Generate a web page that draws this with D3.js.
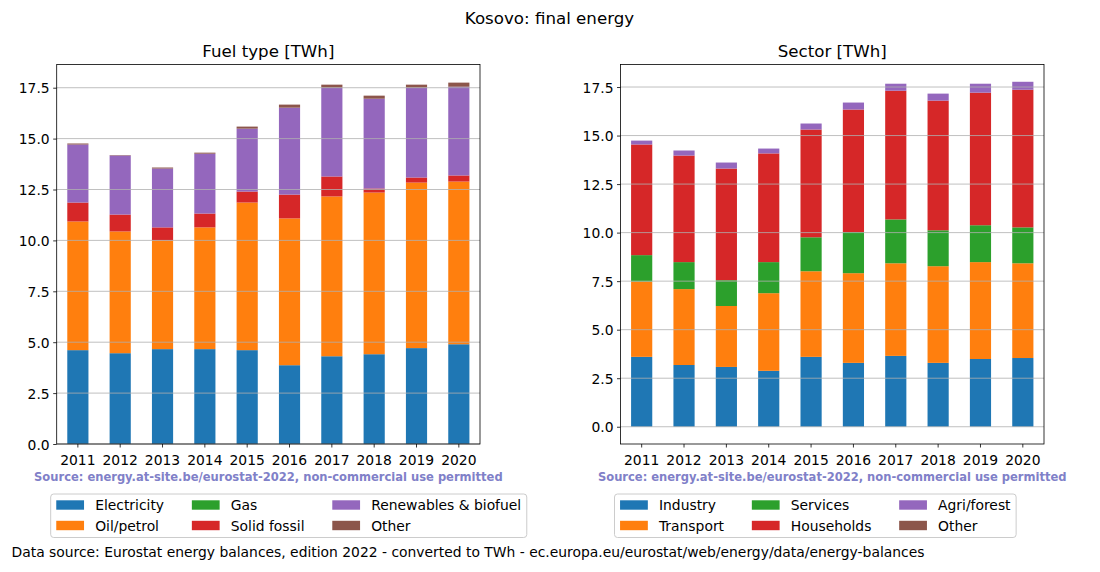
<!DOCTYPE html>
<html>
<head>
<meta charset="utf-8">
<script src="https://cdn.jsdelivr.net/npm/d3@7"></script>
<style>
  html, body { margin: 0; padding: 0; background: #fff; }
  svg { display: block; font-family: "DejaVu Sans", sans-serif; }
</style>
</head>
<body>
<svg id="chart" width="1100" height="572"></svg>
<script>
// ---------------- DATA ----------------
const years = ["2011","2012","2013","2014","2015","2016","2017","2018","2019","2020"];
const yTicks = [0, 2.5, 5, 7.5, 10, 12.5, 15, 17.5];

// Fuel type [TWh]
const fuelNames = ["Electricity", "Oil/petrol", "Gas", "Solid fossil", "Renewables & biofuel", "Other"];
const fuelElectricity = [4.61, 4.46, 4.66, 4.66, 4.61, 3.87, 4.31, 4.41, 4.71, 4.90];
const fuelOil         = [6.32, 5.98, 5.34, 5.98, 7.25, 7.21, 7.85, 7.94, 8.13, 7.99];
const fuelGas         = [0, 0, 0, 0, 0, 0, 0, 0, 0, 0];
const fuelSolid       = [0.93, 0.83, 0.64, 0.68, 0.54, 1.17, 0.98, 0.20, 0.25, 0.30];
const fuelRenewables  = [2.85, 2.90, 2.89, 2.94, 3.09, 4.27, 4.36, 4.41, 4.41, 4.36];
const fuelOther       = [0.05, 0.02, 0.05, 0.05, 0.10, 0.15, 0.15, 0.15, 0.15, 0.20];

// Sector [TWh]
const sectorNames = ["Industry", "Transport", "Services", "Households", "Agri/forest", "Other"];
const secIndustry   = [3.60, 3.18, 3.08, 2.88, 3.60, 3.29, 3.65, 3.29, 3.49, 3.54];
const secTransport  = [3.88, 3.91, 3.14, 4.00, 4.41, 4.62, 4.77, 4.98, 4.99, 4.88];
const secServices   = [1.36, 1.39, 1.33, 1.60, 1.75, 2.12, 2.26, 1.85, 1.90, 1.85];
const secHouseholds = [5.70, 5.49, 5.75, 5.60, 5.55, 6.31, 6.63, 6.68, 6.83, 7.09];
const secAgri       = [0.20, 0.26, 0.31, 0.25, 0.31, 0.36, 0.36, 0.36, 0.46, 0.41];
const secOther      = [0, 0, 0, 0, 0, 0, 0, 0, 0, 0];

const colors = ["#1f77b4", "#ff7f0e", "#2ca02c", "#d62728", "#9467bd", "#8c564b"];

const suptitle = "Kosovo: final energy";
const sourceNote = "Source: energy.at-site.be/eurostat-2022, non-commercial use permitted";
const footer = "Data source: Eurostat energy balances, edition 2022 - converted to TWh - ec.europa.eu/eurostat/web/energy/data/energy-balances";

// ---------------- DRAW ----------------
const svg = d3.select("#chart");
const FS = 13.89;

svg.append("text")
  .attr("x", 549.5).attr("y", 24)
  .attr("text-anchor", "middle")
  .attr("font-size", 16.67)
  .text(suptitle);

svg.append("text")
  .attr("x", 11.5).attr("y", 557.3)
  .attr("font-size", FS)
  .text(footer);

function panel(opts) {
  const { left, right, top, bottom, title, names, series, yDomain } = opts;
  const g = svg.append("g");

  const x = d3.scaleBand().domain(years).range([left, right])
    .paddingInner(0.5).paddingOuter(0.25);
  const y = d3.scaleLinear().domain(yDomain).range([bottom, top]);

  const rows = years.map((yr, i) => {
    const o = { year: yr };
    names.forEach((n, k) => { o[n] = series[k][i]; });
    return o;
  });
  const stacked = d3.stack().keys(names)(rows);

  const layers = g.selectAll("g.layer").data(stacked).enter().append("g")
    .attr("fill", (d, k) => colors[k]);
  layers.selectAll("rect").data(d => d).enter().append("rect")
    .attr("x", d => x(d.data.year))
    .attr("width", x.bandwidth())
    .attr("y", d => y(d[1]))
    .attr("height", d => Math.max(0, y(d[0]) - y(d[1])));

  // grid lines (drawn above bars as in the reference)
  g.selectAll("line.grid").data(yTicks).enter().append("line")
    .attr("x1", left).attr("x2", right)
    .attr("y1", d => y(d)).attr("y2", d => y(d))
    .attr("stroke", "#b0b0b0").attr("stroke-width", 0.8);

  // frame
  g.append("rect")
    .attr("x", left).attr("y", top)
    .attr("width", right - left).attr("height", bottom - top)
    .attr("fill", "none").attr("stroke", "#000").attr("stroke-width", 0.8);

  // y axis
  const yAxis = d3.axisLeft(y).tickValues(yTicks).tickFormat(d3.format(".1f"))
    .tickSize(3.5).tickPadding(3.5);
  const ya = g.append("g").attr("transform", `translate(${left},0)`).call(yAxis);
  ya.select(".domain").remove();
  ya.selectAll(".tick line").attr("stroke", "#000").attr("stroke-width", 0.8);
  ya.selectAll(".tick text").attr("font-size", FS).attr("font-family", "DejaVu Sans")
    .attr("fill", "#000").attr("dy", "0.36em");

  // x axis
  const xAxis = d3.axisBottom(x).tickSize(3.5).tickPadding(3.5);
  const xa = g.append("g").attr("transform", `translate(0,${bottom})`).call(xAxis);
  xa.select(".domain").remove();
  xa.selectAll(".tick line").attr("stroke", "#000").attr("stroke-width", 0.8);
  xa.selectAll(".tick text").attr("font-size", FS).attr("font-family", "DejaVu Sans")
    .attr("fill", "#000").attr("y", 0).attr("dy", 0)
    .attr("transform", "translate(0,21)");

  const cx = (left + right) / 2;
  g.append("text").attr("x", cx).attr("y", 57.3)
    .attr("text-anchor", "middle").attr("font-size", 16.67).text(title);

  // source note, fitted to reference width
  const src = g.append("text").attr("x", cx).attr("y", 480.5)
    .attr("text-anchor", "middle").attr("font-weight", "bold")
    .attr("font-size", 12).attr("fill", "#8080c8").text(sourceNote);
  const w = src.node().getComputedTextLength();
  src.attr("font-size", 12 * 469 / w);

  // legend
  const lg = g.append("g");
  const boxLeft = left - 6, boxTop = 494;
  const pad = 0.4 * FS, handleLen = 2 * FS, handleTextPad = 0.8 * FS, colSpacing = 2 * FS;
  const rowY = [505, 525.5];
  const nCols = 3;
  const frame = lg.append("rect");
  let colX = boxLeft + pad;
  for (let c = 0; c < nCols; c++) {
    let maxW = 0;
    for (let r = 0; r < 2; r++) {
      const k = c * 2 + r;
      lg.append("rect")
        .attr("x", colX).attr("y", rowY[r] - 4.7)
        .attr("width", handleLen).attr("height", 9.4)
        .attr("fill", colors[k]);
      const t = lg.append("text")
        .attr("x", colX + handleLen + handleTextPad).attr("y", rowY[r])
        .attr("dy", "0.36em").attr("font-size", FS).text(names[k]);
      maxW = Math.max(maxW, t.node().getComputedTextLength());
    }
    colX += handleLen + handleTextPad + maxW + (c < nCols - 1 ? colSpacing : 0);
  }
  const boxRight = colX + pad;
  frame.attr("x", boxLeft).attr("y", boxTop)
    .attr("width", boxRight - boxLeft).attr("height", 43.5)
    .attr("rx", 3).attr("ry", 3)
    .attr("fill", "#fff").attr("fill-opacity", 0.8)
    .attr("stroke", "#cccccc").attr("stroke-width", 1);
}

panel({
  left: 56.7, right: 480, top: 64.5, bottom: 444,
  title: "Fuel type [TWh]",
  names: fuelNames,
  series: [fuelElectricity, fuelOil, fuelGas, fuelSolid, fuelRenewables, fuelOther],
  yDomain: [0, 18.64]
});

panel({
  left: 620.5, right: 1044, top: 64.5, bottom: 444,
  title: "Sector [TWh]",
  names: sectorNames,
  series: [secIndustry, secTransport, secServices, secHouseholds, secAgri, secOther],
  yDomain: [-0.889, 18.66]
});
</script>
</body>
</html>
